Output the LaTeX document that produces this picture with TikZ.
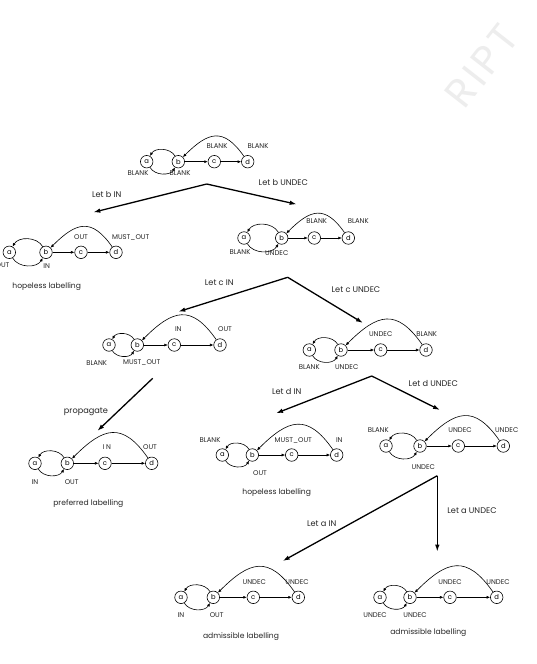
\documentclass[tikz,border=0pt]{standalone}
\usepackage{fontspec}
\setmainfont{Poppins}
\usetikzlibrary{arrows.meta}
\tikzset{
 st/.style={circle,draw,line width=0.6pt,inner sep=0pt,minimum size=12.5pt,font=\fontsize{6.8}{7}\selectfont},
 lab/.style={font=\fontsize{6.9}{7}\selectfont,inner sep=0pt,text=black!85},
 capt/.style={font=\fontsize{7.6}{9}\selectfont,inner sep=0pt,text=black!85},
 trl/.style={font=\fontsize{8.2}{9}\selectfont,inner sep=0pt,text=black!85},
 ed/.style={line width=0.6pt,-{Latex[length=3.5pt,width=3pt]}},
 big/.style={line width=1.3pt,-{Latex[length=7pt,width=4.5pt]}},
}
\newcommand\fourgraph[6]{%
 \node[st] (#1a) at (#3,-#2) {a};
 \node[st] (#1b) at (#4,-#2) {b};
 \node[st] (#1c) at (#5,-#2) {c};
 \node[st] (#1d) at (#6,-#2) {d};
 \draw[ed] (#1a) to[bend right=60] (#1b);
 \draw[ed] (#1b) to[bend right=60] (#1a);
 \draw[ed] (#1b) -- (#1c);
 \draw[ed] (#1c) -- (#1d);
 \draw[ed] (#1d) to[out=125,in=45,looseness=1.5] (#1b);
}
\begin{document}
\begin{tikzpicture}[x=1pt,y=1pt]
\useasboundingbox[fill=white] (0,0) rectangle (537,-664);
% watermark
\node[text=gray!14,rotate=52,font=\fontsize{40}{40}\selectfont,inner sep=0pt] (wm) at (482,-66) {R\kern4pt I\kern4pt P\kern4pt T};
% G1
\fourgraph{g1}{161.7}{146.7}{178.3}{214.3}{247.7}
\node[lab] (g1la) at (138,-173) {BLANK};
\node[lab] (g1lb) at (180,-173) {BLANK};
\node[lab] (g1lc) at (217,-146) {BLANK};
\node[lab] (g1ld) at (258,-146) {BLANK};
% G2
\fourgraph{g2}{252.3}{9.3}{46}{81}{116}
\node[lab] (g2la) at (2.5,-265.5) {OUT};
\node[lab] (g2lb) at (46.7,-266) {IN};
\node[lab] (g2lc) at (81,-237) {OUT};
\node[lab] (g2ld) at (130.7,-237) {MUST\_OUT};
\node[capt] (g2cap) at (46.7,-287) {hopeless labelling};
% G3
\fourgraph{g3}{238}{244}{281.7}{314.3}{348.3}
\node[lab] (g3la) at (240,-251.7) {BLANK};
\node[lab] (g3lb) at (276.7,-253) {UNDEC};
\node[lab] (g3lc) at (316.7,-220.7) {BLANK};
\node[lab] (g3ld) at (358.3,-220.7) {BLANK};
% G4
\fourgraph{g4}{345}{109}{137.3}{174.3}{220}
\node[lab] (g4la) at (96.7,-362.7) {BLANK};
\node[lab] (g4lb) at (141.7,-362.7) {MUST\_OUT};
\node[lab] (g4lc) at (178.3,-329.3) {IN};
\node[lab] (g4ld) at (225,-329.3) {OUT};
% G5
\fourgraph{g5}{350}{309.3}{341}{380.7}{426}
\node[lab] (g5la) at (309.3,-367.3) {BLANK};
\node[lab] (g5lb) at (346.7,-367.3) {UNDEC};
\node[lab] (g5lc) at (380.7,-334.3) {UNDEC};
\node[lab] (g5ld) at (426.7,-334.3) {BLANK};
% G6
\fourgraph{g6}{463.3}{35}{67.3}{105}{151.7}
\node[lab] (g6la) at (35,-481.7) {IN};
\node[lab] (g6lb) at (71.7,-481.7) {OUT};
\node[lab] (g6lc) at (106.7,-447.3) {I N};
\node[lab] (g6ld) at (150,-447.3) {OUT};
\node[capt] (g6cap) at (88.3,-504) {preferred labelling};
% G7
\fourgraph{g7}{455}{222.3}{252.3}{291.7}{336.7}
\node[lab] (g7la) at (210,-440) {BLANK};
\node[lab] (g7lb) at (260,-473.3) {OUT};
\node[lab] (g7lc) at (293.3,-440) {MUST\_OUT};
\node[lab] (g7ld) at (339.3,-440) {IN};
\node[capt] (g7cap) at (276.7,-492.7) {hopeless labelling};
% G8
\fourgraph{g8}{446}{386}{420}{458.3}{503.3}
\node[lab] (g8la) at (378.3,-430) {BLANK};
\node[lab] (g8lb) at (423.3,-466.7) {UNDEC};
\node[lab] (g8lc) at (460,-430) {UNDEC};
\node[lab] (g8ld) at (506.7,-430) {UNDEC};
% G9
\fourgraph{g9}{597.3}{181}{213.3}{253.3}{298.3}
\node[lab] (g9la) at (181,-615) {IN};
\node[lab] (g9lb) at (216.7,-615) {OUT};
\node[lab] (g9lc) at (254.3,-581.7) {UNDEC};
\node[lab] (g9ld) at (297,-581.7) {UNDEC};
\node[capt] (g9cap) at (241,-636.7) {admissible labelling};
% G10
\fourgraph{g10}{597.3}{380}{410}{450}{496.7}
\node[lab] (g10la) at (375,-615) {UNDEC};
\node[lab] (g10lb) at (415,-615) {UNDEC};
\node[lab] (g10lc) at (450,-581.7) {UNDEC};
\node[lab] (g10ld) at (498,-581.7) {UNDEC};
\node[capt] (g10cap) at (428.3,-632.7) {admissible labelling};
% transitions
\coordinate (t1) at (206.7,-184);
\coordinate (t1l) at (93.3,-212.3);
\coordinate (t1r) at (296.7,-204.3);
\draw[big] (t1) -- (t1l);
\draw[big] (t1) -- (t1r);
\node[trl] (t1a) at (106.7,-194.3) {Let b IN};
\node[trl] (t1b) at (283.3,-182.7) {Let b UNDEC};
\coordinate (t2) at (287.7,-277.3);
\coordinate (t2l) at (178.3,-311.7);
\coordinate (t2r) at (363,-323);
\draw[big] (t2) -- (t2l);
\draw[big] (t2) -- (t2r);
\node[trl] (t2a) at (219.3,-282.7) {Let c IN};
\node[trl] (t2b) at (356,-290) {Let c UNDEC};
\coordinate (pp) at (152.7,-378.3);
\coordinate (ppe) at (97.3,-431);
\draw[big] (pp) -- (ppe);
\node[trl] (ppl) at (86,-411.7) {propagate};
\coordinate (t3) at (371.7,-376);
\coordinate (t3l) at (276,-413.3);
\coordinate (t3r) at (440,-410);
\draw[big] (t3) -- (t3l);
\draw[big] (t3) -- (t3r);
\node[trl] (t3a) at (286.7,-391.7) {Let d IN};
\node[trl] (t3b) at (433.3,-383.3) {Let d UNDEC};
\coordinate (t4) at (437.3,-475.7);
\coordinate (t4l) at (282.7,-561);
\coordinate (t4d) at (437.3,-551.7);
\draw[big] (t4) -- (t4l);
\draw[big] (t4) -- (t4d);
\node[trl] (t4a) at (321.7,-523.3) {Let a IN};
\node[trl] (t4b) at (472,-511) {Let a UNDEC};
\end{tikzpicture}
\end{document}
